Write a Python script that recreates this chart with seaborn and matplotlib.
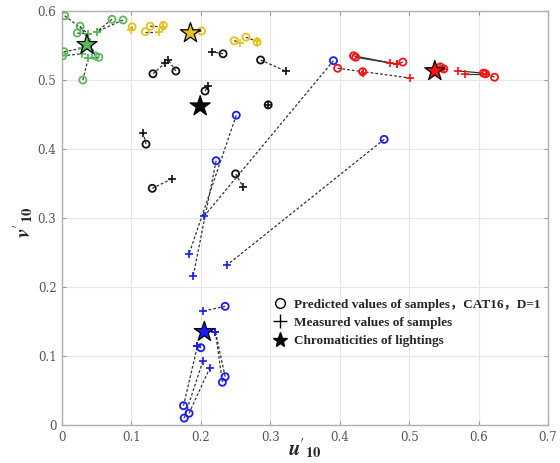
import matplotlib
matplotlib.use("Agg")
import matplotlib.pyplot as plt
from matplotlib.lines import Line2D
import seaborn as sns
import pandas as pd

sns.set_theme(style="white")
plt.rcParams['font.family'] = ['Liberation Serif', 'Noto Sans CJK SC', 'DejaVu Sans']
plt.rcParams['mathtext.fontset'] = 'stix'

# ---------------- data ----------------
groups = ["green", "yellow", "black", "blue", "red"]
group_colors = {"green": "#5cb85c", "yellow": "#e8c21a", "black": "#111111",
                "blue": "#1a1aff", "red": "#ff1010"}
star_face = {"green": "#5cb85c", "yellow": "#e8c21a", "black": "#000000",
             "blue": "#1a1aff", "red": "#ff1010"}

# predicted (circle) and measured (plus) values, paired
green_pu = [0.004, 0.026, 0.022, 0.072, 0.088, 0.003, 0.001, 0.048, 0.053, 0.030]
green_pv = [0.593, 0.578, 0.568, 0.588, 0.587, 0.541, 0.535, 0.535, 0.533, 0.500]
green_mu = [0.038, 0.040, 0.038, 0.050, 0.050, 0.029, 0.029, 0.040, 0.038, 0.038]
green_mv = [0.567, 0.555, 0.567, 0.570, 0.570, 0.546, 0.538, 0.555, 0.532, 0.532]

yellow_pu = [0.101, 0.127, 0.146, 0.120, 0.201, 0.248, 0.265, 0.281]
yellow_pv = [0.577, 0.578, 0.579, 0.570, 0.571, 0.557, 0.562, 0.555]
yellow_mu = [0.100, 0.146, 0.146, 0.140, 0.188, 0.257, 0.281, 0.281]
yellow_mv = [0.572, 0.577, 0.577, 0.570, 0.569, 0.554, 0.556, 0.556]

black_pu = [0.131, 0.164, 0.232, 0.286, 0.206, 0.297, 0.121, 0.130, 0.250]
black_pv = [0.509, 0.513, 0.538, 0.529, 0.484, 0.464, 0.407, 0.343, 0.364]
black_mu = [0.149, 0.153, 0.216, 0.322, 0.211, 0.297, 0.117, 0.159, 0.261]
black_mv = [0.525, 0.529, 0.541, 0.513, 0.491, 0.464, 0.423, 0.357, 0.345]

blue_pu = [0.391, 0.251, 0.222, 0.464, 0.235, 0.235, 0.231, 0.200, 0.175, 0.183, 0.176]
blue_pv = [0.528, 0.449, 0.383, 0.414, 0.172, 0.070, 0.062, 0.112, 0.028, 0.017, 0.010]
blue_mu = [0.205, 0.183, 0.189, 0.238, 0.203, 0.221, 0.221, 0.195, 0.195, 0.213, 0.203]
blue_mv = [0.303, 0.248, 0.216, 0.232, 0.165, 0.135, 0.135, 0.114, 0.114, 0.083, 0.093]

red_pu = [0.397, 0.433, 0.420, 0.423, 0.491, 0.545, 0.550, 0.607, 0.610, 0.623]
red_pv = [0.517, 0.512, 0.535, 0.533, 0.526, 0.519, 0.516, 0.510, 0.509, 0.504]
red_mu = [0.501, 0.433, 0.472, 0.483, 0.483, 0.545, 0.550, 0.571, 0.580, 0.610]
red_mv = [0.503, 0.510, 0.525, 0.523, 0.523, 0.519, 0.516, 0.513, 0.509, 0.509]
red_solid = [False, False, True, True, False, False, False, True, True, False]

# chromaticities of lightings
star_u = [0.036, 0.185, 0.199, 0.205, 0.537]
star_v = [0.551, 0.568, 0.462, 0.135, 0.513]

x_ticks = [0, 0.1, 0.2, 0.3, 0.4, 0.5, 0.6, 0.7]
y_ticks = [0, 0.1, 0.2, 0.3, 0.4, 0.5, 0.6]
legend_labels = ["Predicted values of samples，CAT16，D=1",
                 "Measured values of samples",
                 "Chromaticities of lightings"]

# ------------- build table -------------
rows = []
src = {
    "green": (green_pu, green_pv, green_mu, green_mv, [False] * len(green_pu)),
    "yellow": (yellow_pu, yellow_pv, yellow_mu, yellow_mv, [False] * len(yellow_pu)),
    "black": (black_pu, black_pv, black_mu, black_mv, [False] * len(black_pu)),
    "blue": (blue_pu, blue_pv, blue_mu, blue_mv, [False] * len(blue_pu)),
    "red": (red_pu, red_pv, red_mu, red_mv, red_solid),
}
for g in groups:
    pu, pv, mu, mv, solid = src[g]
    for a, b, c, d, s in zip(pu, pv, mu, mv, solid):
        rows.append(dict(group=g, pu=a, pv=b, mu=c, mv=d, solid=s))
df = pd.DataFrame(rows)
stars = pd.DataFrame(dict(group=groups, u=star_u, v=star_v))

# ------------- draw -------------
fig = plt.figure(figsize=(5.6, 4.63), dpi=100)
ax = fig.add_axes([62 / 560, 1 - 425 / 463, 486 / 560, 414 / 463])

for _, r in df.iterrows():
    ax.plot([r.pu, r.mu], [r.pv, r.mv], color="#333333", lw=0.9,
            ls="-" if r.solid else (0, (2.2, 1.6)), zorder=2)

for g in groups:
    sub = df[df.group == g]
    col = group_colors[g]
    sns.scatterplot(x=sub.mu, y=sub.mv, ax=ax, marker="+", s=40, color=col,
                    linewidth=1.2, zorder=3, legend=False)
    ax.collections[-1].set_edgecolor(col)
    sns.scatterplot(x=sub.pu, y=sub.pv, ax=ax, marker="o", s=26, color=col,
                    linewidth=1.3, zorder=4, legend=False)
    ax.collections[-1].set_facecolor("none")
    ax.collections[-1].set_edgecolor(col)

sns.scatterplot(data=stars, x="u", y="v", hue="group", palette=star_face,
                marker="*", s=230, edgecolor="black", linewidth=0.9,
                ax=ax, zorder=5, legend=False)

ax.set_xlim(0, 0.7)
ax.set_ylim(0, 0.6)
ax.set_xticks(x_ticks)
ax.set_yticks(y_ticks)
ax.set_xticklabels([f"{t:g}" for t in x_ticks])
ax.set_yticklabels([f"{t:g}" for t in y_ticks])
ax.tick_params(direction="in", length=3, width=0.8, color="#999999",
               labelcolor="#555555", labelsize=9, top=True, right=True,
               bottom=True, left=True, pad=4)
for lab in ax.get_xticklabels() + ax.get_yticklabels():
    lab.set_family("DejaVu Serif")
    lab.set_fontsize(8.5)
ax.grid(True, color="#e6e6e6", lw=0.8)
for sp in ax.spines.values():
    sp.set_color("#b0b0b0")
    sp.set_linewidth(1.0)

ax.set_xlabel(r"$\mathbfit{u}'_{\mathbf{10}}$", fontsize=15)
ax.xaxis.set_label_coords(0.5, -0.028)
ax.set_ylabel(r"$\mathbfit{v}'_{\mathbf{10}}$", fontsize=15, va="center")
ax.yaxis.set_label_coords(-0.078, 0.49)

handles = [
    Line2D([], [], marker="o", ls="none", mfc="none", mec="black", ms=7, mew=1.0),
    Line2D([], [], marker="+", ls="none", color="black", ms=10, mew=1.0),
    Line2D([], [], marker="*", ls="none", color="black", ms=11),
]
ax.legend(handles, legend_labels, loc="upper left", bbox_to_anchor=(0.425, 0.318),
          frameon=False, handlelength=1.0, handletextpad=0.5, labelspacing=0.45,
          prop=dict(family=['Liberation Serif', 'Noto Sans CJK SC'], weight="bold", size=9.5),
          borderaxespad=0)

fig.savefig("out.png", dpi=100)
